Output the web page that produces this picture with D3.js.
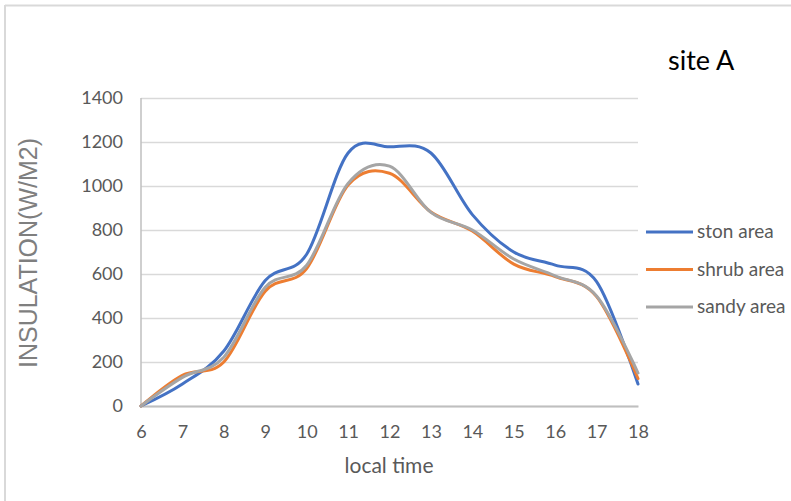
<!DOCTYPE html>
<html>
<head>
<meta charset="utf-8">
<script src="https://cdn.jsdelivr.net/npm/d3@7"></script>
<style>
  html, body { margin: 0; padding: 0; background: #fff; }
  svg { display: block; }
</style>
</head>
<body>
<svg id="chart" width="791" height="501"></svg>
<script>
// Hourly solar insulation at site A, by surface type
const hours = [6, 7, 8, 9, 10, 11, 12, 13, 14, 15, 16, 17, 18];
const stonArea  = [0, 100, 250, 570, 690, 1150, 1178, 1150, 870, 700, 640, 565, 100];
const shrubArea = [0, 140, 200, 522, 625, 1005, 1058, 882, 795, 645, 588, 497, 125];
const sandyArea = [0, 130, 222, 540, 640, 1012, 1090, 880, 800, 668, 592, 500, 150];
const yTicks = [0, 200, 400, 600, 800, 1000, 1200, 1400];
const seriesNames = ["ston area", "shrub area", "sandy area"];
const seriesColors = ["#4472c4", "#ed7d31", "#a5a5a5"];

const series = [stonArea, shrubArea, sandyArea].map((vals, i) => ({
  name: seriesNames[i], color: seriesColors[i],
  points: hours.map((h, j) => ({ x: h, y: vals[j] }))
}));

const svg = d3.select("#chart");
const font = "Lato, 'Open Sans', sans-serif";

// frame edges
svg.append("line").attr("x1", 5).attr("x2", 791).attr("y1", 5.5).attr("y2", 5.5)
  .attr("stroke", "#d9d9d9").attr("stroke-width", 2);
svg.append("line").attr("x1", 5).attr("x2", 5).attr("y1", 5).attr("y2", 501)
  .attr("stroke", "#d9d9d9").attr("stroke-width", 2);

const x = d3.scaleLinear().domain([6, 18]).range([141, 638]);
const y = d3.scaleLinear().domain([0, 1400]).range([406, 98]);

// horizontal gridlines
svg.append("g")
  .attr("transform", "translate(141,0)")
  .call(d3.axisLeft(y).tickValues(yTicks).tickSize(-(638 - 141)).tickFormat(""))
  .call(g => g.select(".domain").remove())
  .call(g => g.selectAll(".tick line").attr("stroke", "#d9d9d9").attr("stroke-width", 1.5));

// y tick labels
svg.append("g")
  .attr("transform", "translate(141,0)")
  .call(d3.axisLeft(y).tickValues(yTicks).tickSize(0).tickPadding(18).tickFormat(d3.format("d")))
  .call(g => g.select(".domain").remove())
  .call(g => g.selectAll("text").attr("fill", "#595959")
    .style("font-family", font).style("font-size", "18px"));

// left axis line
svg.append("line").attr("x1", x(6)).attr("x2", x(6)).attr("y1", y(1400)).attr("y2", y(0))
  .attr("stroke", "#bfbfbf").attr("stroke-width", 1.5);

// x axis
svg.append("g")
  .attr("transform", `translate(0,${y(0)})`)
  .call(d3.axisBottom(x).tickValues(hours).tickSize(0).tickPadding(19))
  .call(g => g.select(".domain").attr("stroke", "#bfbfbf").attr("stroke-width", 2))
  .call(g => g.selectAll("text").attr("fill", "#595959")
    .style("font-family", font).style("font-size", "18px"));

// smoothed series lines
const line = d3.line().x(d => x(d.x)).y(d => y(d.y)).curve(d3.curveCardinal.tension(0));
svg.append("g").selectAll("path").data(series).join("path")
  .attr("d", d => line(d.points))
  .attr("fill", "none")
  .attr("stroke", d => d.color)
  .attr("stroke-width", 3)
  .attr("stroke-linecap", "round")
  .attr("stroke-linejoin", "round");

// legend
const legend = svg.append("g").selectAll("g").data(series).join("g")
  .attr("transform", (d, i) => `translate(646,${232 + i * 37.5})`);
legend.append("line").attr("x1", 0).attr("x2", 47).attr("stroke", d => d.color).attr("stroke-width", 3);
legend.append("text").attr("x", 51).attr("y", 6).text(d => d.name)
  .attr("fill", "#595959").style("font-family", font).style("font-size", "19px");

// titles
svg.append("text").attr("x", 668).attr("y", 70).text("site A")
  .attr("fill", "#000").style("font-family", font).style("font-size", "27px");

svg.append("text").attr("x", 389).attr("y", 473).attr("text-anchor", "middle").text("local time")
  .attr("fill", "#595959").style("font-family", font).style("font-size", "21px");

svg.append("text")
  .attr("transform", "translate(37,253) rotate(-90)")
  .attr("text-anchor", "middle").text("INSULATION(W/M2)")
  .attr("fill", "#7f7f7f").style("font-family", "'Liberation Sans', Arial, sans-serif")
  .style("font-size", "25px");
</script>
</body>
</html>
